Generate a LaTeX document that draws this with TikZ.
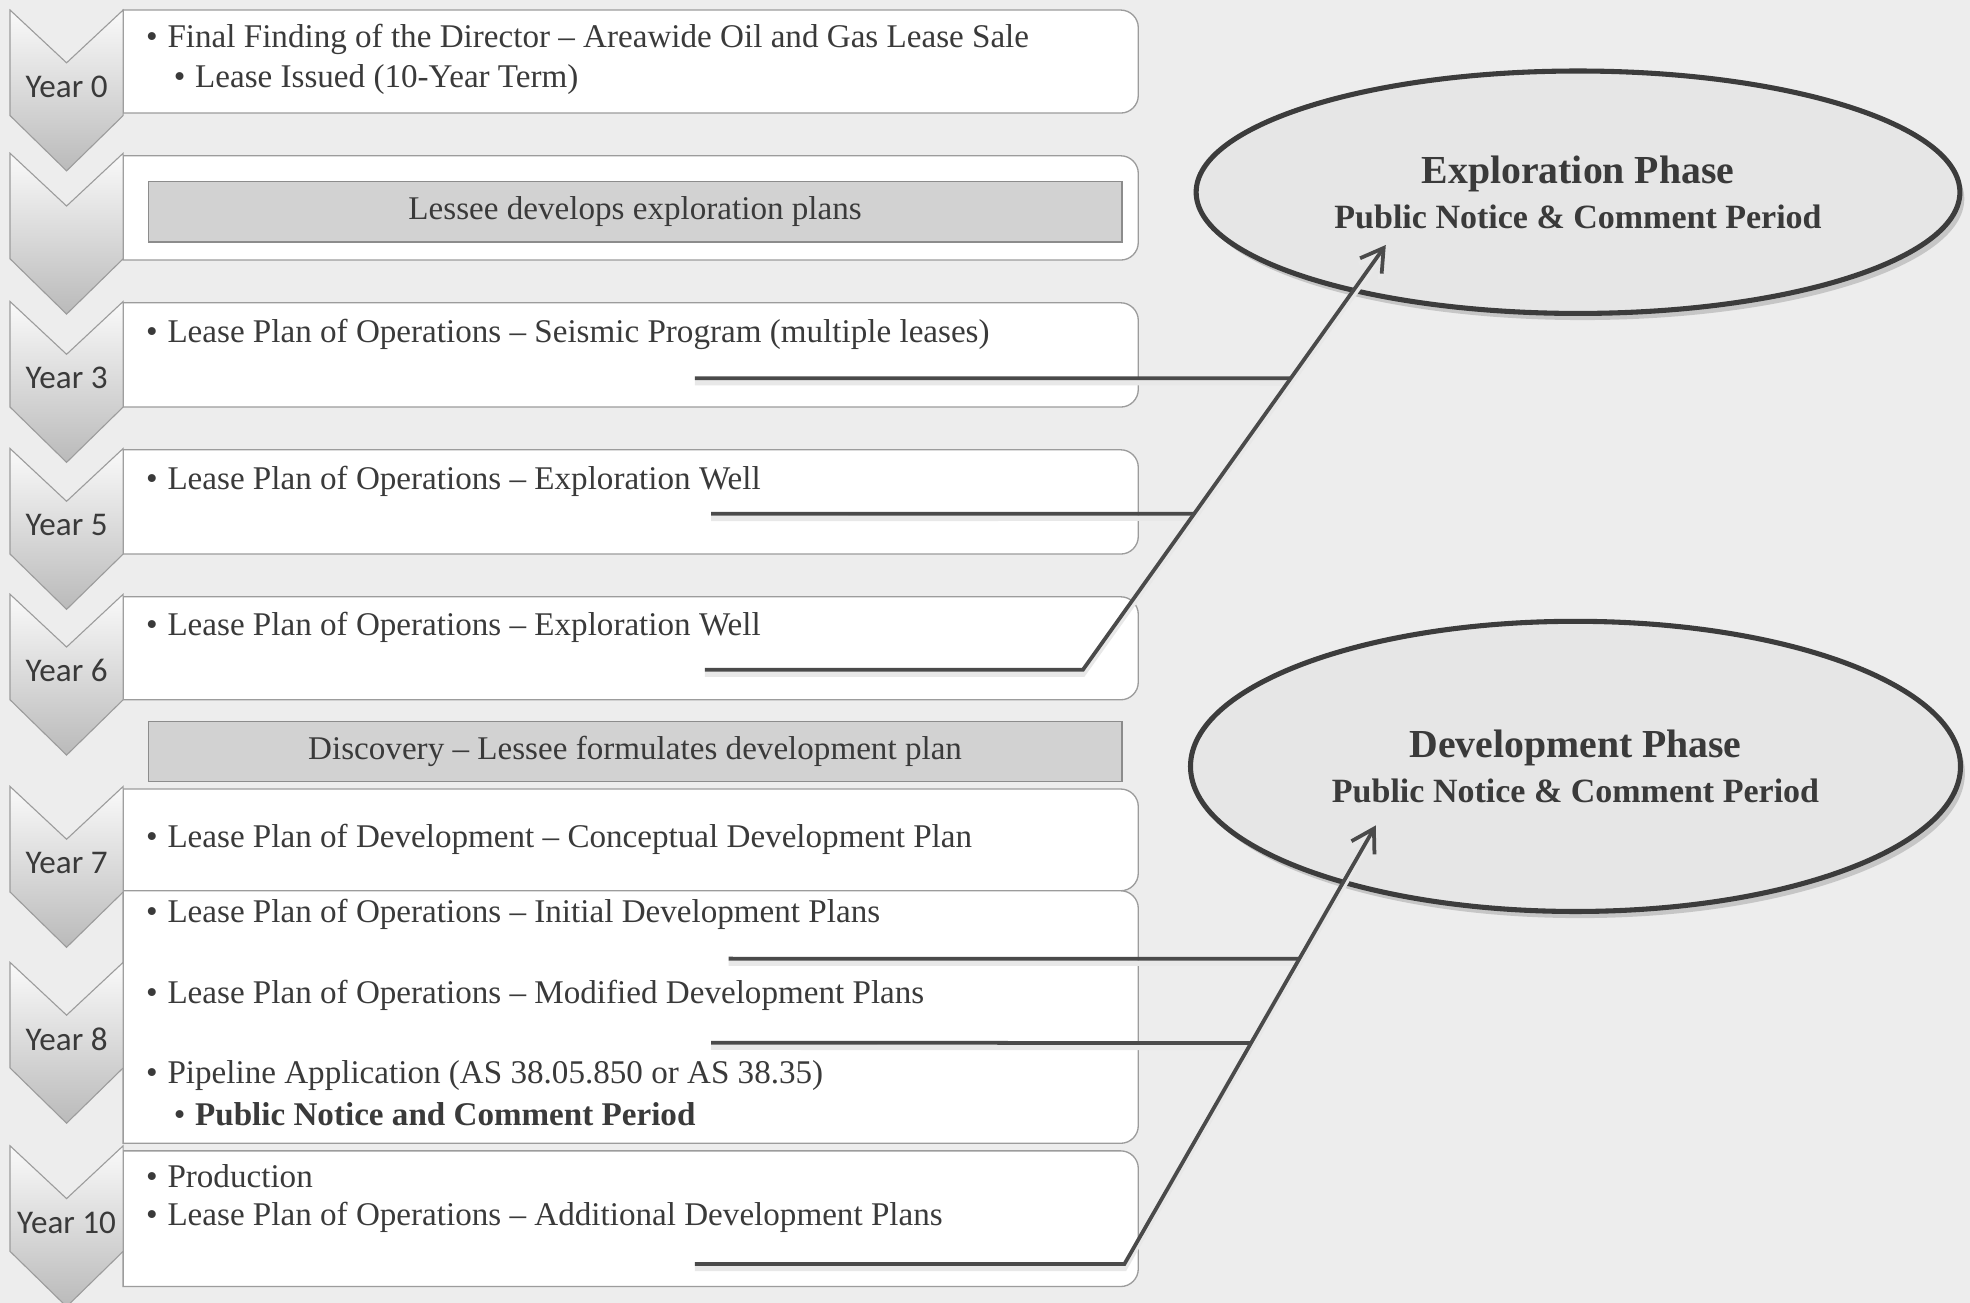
\documentclass[tikz,border=0pt]{standalone}
\usepackage{fontspec}
\setmainfont{Liberation Serif}
\newfontfamily\yearfont{Carlito}
\usetikzlibrary{arrows.meta,calc,shapes.geometric,shadows}
\definecolor{ink}{HTML}{3A3A3A}
\definecolor{paper}{HTML}{EDEDED}
\definecolor{rim}{HTML}{9C9C9C}
\definecolor{barfill}{HTML}{D2D2D2}
\definecolor{ringgray}{HTML}{3C3C3C}
\definecolor{ovalfill}{HTML}{E6E6E6}
\definecolor{linkgray}{HTML}{4A4A4A}
\newcommand{\itm}[1]{\makebox[0.34cm][l]{•}#1}

\begin{document}
\begin{tikzpicture}[x=0.02cm,y=-0.02cm,
    every node/.style={text=ink},
    item/.style={anchor=west,inner sep=0pt,font=\fontsize{15}{18}\selectfont},
    stage/.style={fill=white,draw=rim,line width=0.6pt},
    chev/.style={draw=rim,line width=0.5pt,top color=black!2,bottom color=black!27},
    yearlab/.style={font=\yearfont\fontsize{15}{18}\selectfont},
    bar/.style={fill=barfill,draw=black!45,line width=0.6pt,minimum width=15.5cm,
      minimum height=0.96cm,inner sep=0pt,font=\fontsize{15}{18}\selectfont},
    phase/.style={ellipse,draw=ringgray,line width=2.3pt,fill=ovalfill,inner sep=0pt,
      align=center,drop shadow={opacity=0.35,shadow xshift=2pt,shadow yshift=-3pt}},
    link/.style={draw=linkgray,line width=1.7pt,
      preaction={draw=black!9,line width=2.5pt,transform canvas={yshift=-2pt}}},
    >={Straight Barb[length=10pt,width=12pt]}]
  \useasboundingbox (0,0) rectangle (1568,1037);
  \fill[paper] (0,0) rectangle (1568,1037);

  % stage boxes, square on the left, rounded on the right
  \foreach \a/\b in {8/90,124/207,241/324,358/441,475/557,628/709,709/910,916/1024}
    \draw[stage] (98,\b) -- (98,\a) [rounded corners=8pt] -- (906,\a) -- (906,\b) [sharp corners] -- cycle;

  % year chevrons
  \foreach \t/\lab in {8/Year 0,122/,240/Year 3,357/Year 5,473/Year 6,626/Year 7,766/Year 8,912/Year 10} {
    \draw[chev] (8,\t) -- (53,\t+42) -- (98,\t) -- (98,\t+84) -- (53,\t+128) -- (8,\t+84) -- cycle;
    \node[yearlab] (yr\t) at (53,\t+61) {\lab};
  }

  \node[item] (t0a) at (116,31) {\itm{Final Finding of the Director – Areawide Oil and Gas Lease Sale}};
  \node[item] (t0b) at (138,63) {\itm{Lease Issued (10-Year Term)}};
  \node[bar] (plan) at (505.5,168.5) {Lessee develops exploration plans};
  \node[item] (t3) at (116,266) {\itm{Lease Plan of Operations – Seismic Program (multiple leases)}};
  \node[item] (t5) at (116,383) {\itm{Lease Plan of Operations – Exploration Well}};
  \node[item] (t6) at (116,499) {\itm{Lease Plan of Operations – Exploration Well}};
  \node[bar] (disc) at (505.5,598) {Discovery – Lessee formulates development plan};
  \node[item] (t7) at (116,668) {\itm{Lease Plan of Development – Conceptual Development Plan}};
  \node[item] (t8a) at (116,728) {\itm{Lease Plan of Operations – Initial Development Plans}};
  \node[item] (t8b) at (116,792) {\itm{Lease Plan of Operations – Modified Development Plans}};
  \node[item] (t8c) at (116,856) {\itm{Pipeline Application (AS 38.05.850 or AS 38.35)}};
  \node[item] (t8d) at (138,887) {\itm{\textbf{Public Notice and Comment Period}}};
  \node[item] (t10a) at (116,936) {\itm{Production}};
  \node[item] (t10b) at (116,969) {\itm{Lease Plan of Operations – Additional Development Plans}};

  % phases
  \node[phase,minimum width=12.16cm,minimum height=3.86cm] (expl) at (1256,153)
    {{\fontsize{18}{22}\selectfont\bfseries Exploration Phase}\\[5pt]
     {\fontsize{15.4}{18}\selectfont\bfseries Public Notice \& Comment Period}};
  \node[phase,minimum width=12.26cm,minimum height=4.62cm] (devl) at (1254,610)
    {{\fontsize{18}{22}\selectfont\bfseries Development Phase}\\[5pt]
     {\fontsize{15.4}{18}\selectfont\bfseries Public Notice \& Comment Period}};

  % exploration connectors
  \coordinate (s3) at (553,301);
  \coordinate (s5) at (566,409);
  \coordinate (s6) at (561,533);
  \coordinate (k6) at (862,533);
  \coordinate (tE) at ($(expl.center)+(-153,42)$);
  \coordinate (j3) at ($(k6)!0.686!(tE)$);
  \coordinate (j5) at ($(k6)!0.367!(tE)$);
  \draw[link] (s3) -- (j3);
  \draw[link] (s5) -- (j5);
  \draw[link,->] (s6) -- (k6) -- (tE);

  % development connectors
  \coordinate (s8a) at (580,763);
  \coordinate (s8b) at (566,830);
  \coordinate (s10) at (553,1006);
  \coordinate (k10) at (895,1006);
  \coordinate (tD) at ($(devl.center)+(-159,47)$);
  \coordinate (j8a) at ($(k10)!0.696!(tD)$);
  \coordinate (j8b) at ($(k10)!0.504!(tD)$);
  \draw[link] (s8a) -- (j8a);
  \draw[link] (s8b) -- (j8b);
  \draw[link,->] (s10) -- (k10) -- (tD);
\end{tikzpicture}
\end{document}
